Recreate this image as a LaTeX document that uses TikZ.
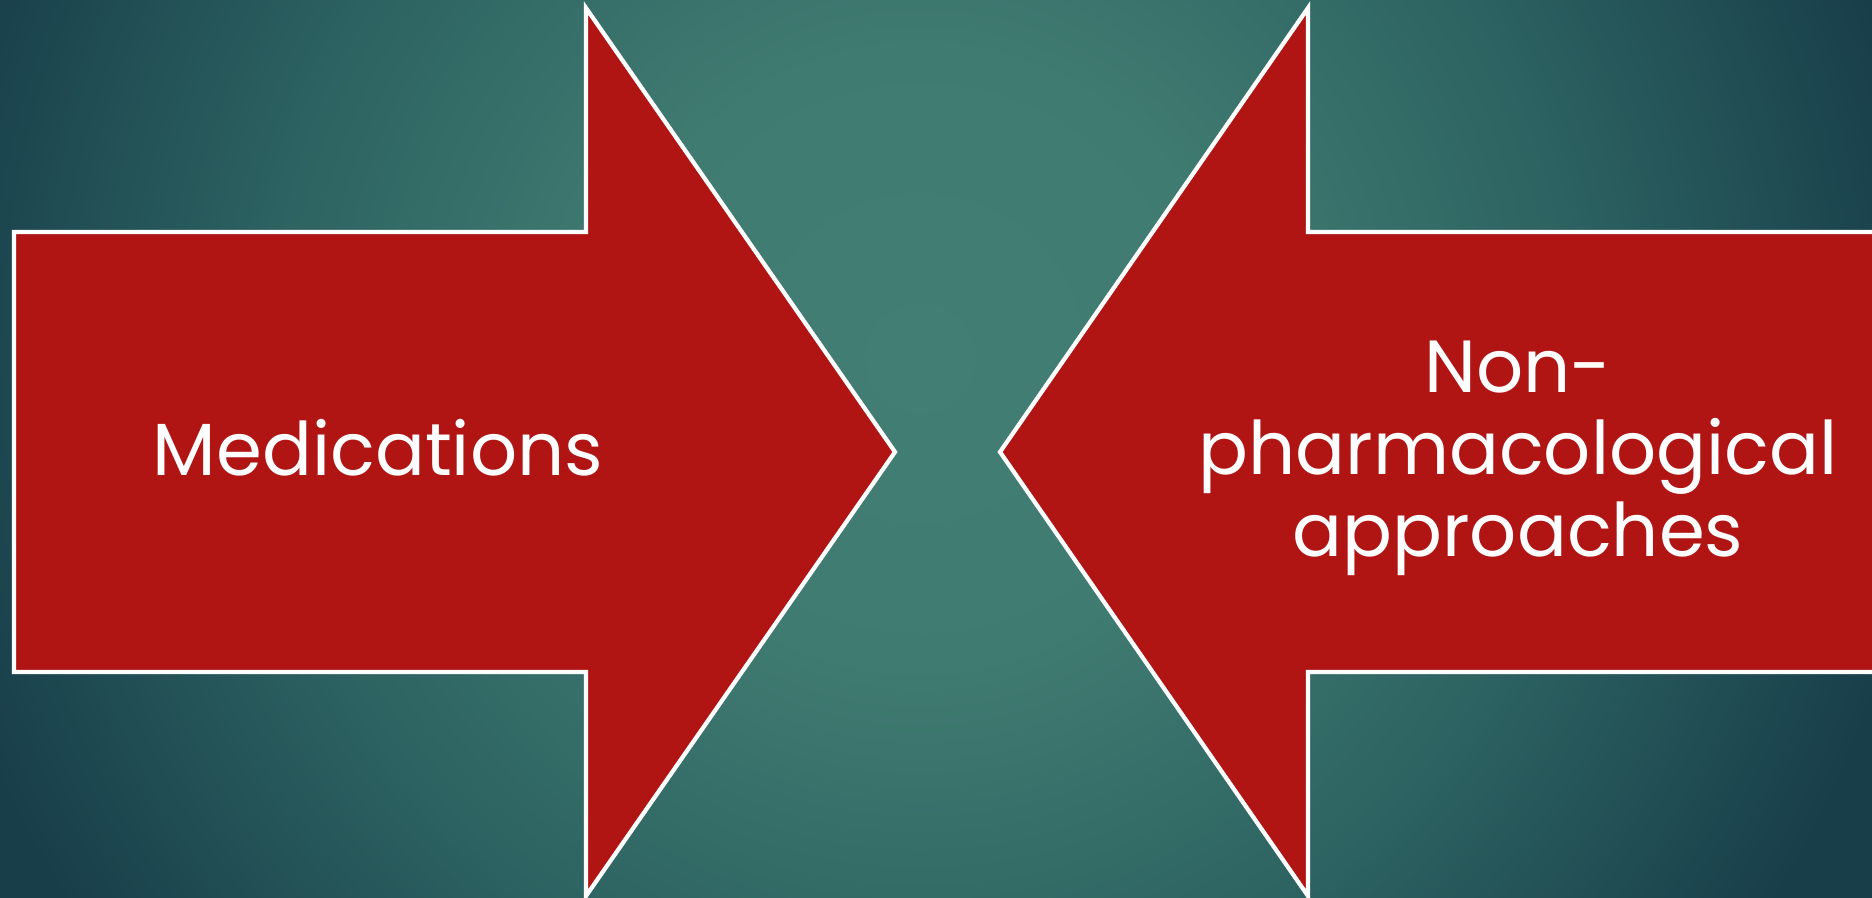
\documentclass[tikz,border=0pt]{standalone}
\usepackage{fontspec}
\setmainfont{Poppins}
\usetikzlibrary{positioning}
\definecolor{arrowred}{RGB}{176,21,20}
\definecolor{bgmid}{RGB}{66,126,115}
\definecolor{bgring}{RGB}{44,98,97}
\definecolor{bgedge}{RGB}{24,62,74}
\pgfdeclareradialshading{bgglow}{\pgfpoint{0bp}{0bp}}{color(0bp)=(bgmid); color(7bp)=(bgmid!90!bgring); color(15bp)=(bgring); color(23bp)=(bgedge); color(50bp)=(bgedge)}
\tikzset{
    arrowshape/.style={fill=arrowred, draw=white, line width=1.2pt, miter limit=20}, % the two big block arrows
    arrowlabel/.style={text=white, font=\fontsize{21}{23.3}\selectfont, align=center}, % white text on them
}

\begin{document}
\begin{tikzpicture}[x=0.01cm, y=0.01cm]
  % slide size, in pixels
  \useasboundingbox (0,0) rectangle (1872,898);
  \clip (0,0) rectangle (1872,898);
  \fill[bgedge] (0,0) rectangle (1872,898);
  \shade[shading=bgglow] (920,540) circle (1100);

  % left arrow, pointing right
  \draw[arrowshape] (14,666) -- (586,666) -- (586,890) -- (895,446)
      -- (586,2) -- (586,226) -- (14,226) -- cycle;
  % right arrow, pointing left
  \draw[arrowshape] (1000,446) -- (1308,890) -- (1308,666) -- (1890,666)
      -- (1890,226) -- (1308,226) -- (1308,2) -- cycle;

  \node[arrowlabel, anchor=base] (meds) at (378,422) {Medications};
  \node[arrowlabel] (nonpharm) at (1518,440) {Non-\\pharmacological\\approaches};
\end{tikzpicture}
\end{document}
